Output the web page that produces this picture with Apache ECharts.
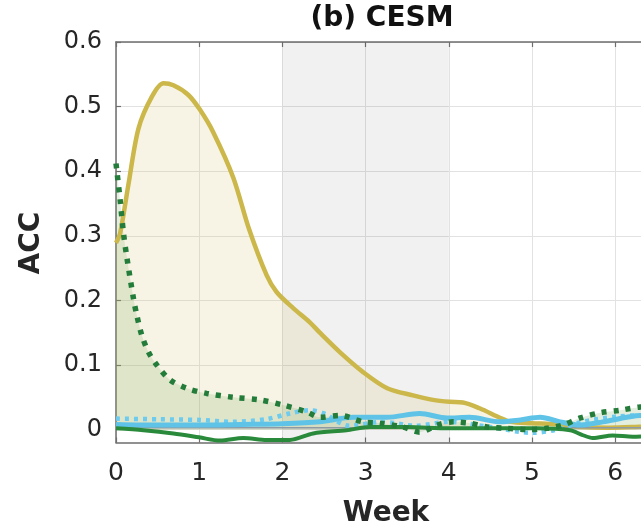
<!DOCTYPE html>
<html><head><meta charset="utf-8">
<script src="https://cdn.jsdelivr.net/npm/echarts@6/dist/echarts.min.js"></script>
<style>html,body{margin:0;padding:0;background:#fff}#c{width:641px;height:530px}</style>
</head><body><div id="c"></div>
<script>
// ---- data ----
const xTicks = [0, 1, 2, 3, 4, 5, 6, 7];
const yTicks = [0, 0.1, 0.2, 0.3, 0.4, 0.5, 0.6];
const shadedWeeks = [2, 4];

const weeksYellow = [0, 0.05, 0.15, 0.27, 0.43, 0.57, 0.69, 0.87, 1.01, 1.17, 1.41, 1.6, 1.81, 1.93, 2.13, 2.33, 2.45, 2.69, 2.97, 3.26, 3.57, 3.81, 4.01, 4.17, 4.37, 4.62, 4.74, 5.0, 5.3, 5.6, 5.9, 6.2, 6.5, 7];
const accYellow   = [0.289, 0.304, 0.38, 0.466, 0.515, 0.536, 0.533, 0.518, 0.495, 0.46, 0.39, 0.31, 0.239, 0.213, 0.188, 0.166, 0.150, 0.12, 0.089, 0.064, 0.053, 0.046, 0.043, 0.042, 0.033, 0.018, 0.012, 0.010, 0.008, 0.004, 0.003, 0.004, 0.005, 0.005];

const weeksGreenDot = [0, 0.05, 0.09, 0.13, 0.21, 0.25, 0.31, 0.39, 0.49, 0.65, 0.85, 1.09, 1.41, 1.73, 2.01, 2.3, 2.45, 2.69, 2.97, 3.17, 3.45, 3.65, 3.86, 4.05, 4.25, 4.46, 4.7, 4.94, 5.18, 5.37, 5.58, 5.82, 6.06, 6.3, 6.6, 7];
const accGreenDot   = [0.412, 0.355, 0.304, 0.267, 0.203, 0.177, 0.146, 0.12, 0.10, 0.077, 0.064, 0.056, 0.05, 0.046, 0.038, 0.027, 0.019, 0.022, 0.012, 0.010, 0.004, -0.004, 0.007, 0.012, 0.010, 0.004, 0.002, 0.0, 0.002, 0.007, 0.018, 0.026, 0.03, 0.035, 0.037, 0.038];

const weeksCyan = [0, 0.5, 1, 1.5, 2, 2.45, 2.85, 3.26, 3.65, 3.98, 4.25, 4.62, 4.86, 5.1, 5.34, 5.58, 5.85, 6.14, 6.3, 6.6, 7];
const accCyan   = [0.008, 0.007, 0.007, 0.008, 0.009, 0.012, 0.019, 0.019, 0.025, 0.018, 0.019, 0.012, 0.015, 0.019, 0.012, 0.007, 0.012, 0.019, 0.022, 0.02, 0.02];

const weeksCyanDot = [0, 0.5, 1, 1.4, 1.8, 2.09, 2.33, 2.5, 2.8, 3.2, 3.6, 4.0, 4.5, 5.0, 5.3, 5.6, 6.0, 6.3, 7];
const accCyanDot   = [0.017, 0.016, 0.015, 0.012, 0.016, 0.025, 0.030, 0.025, 0.006, 0.012, 0.006, 0.012, 0.004, -0.005, 0.0, 0.012, 0.02, 0.022, 0.022];

const weeksDarkGreen = [0, 0.33, 0.69, 1.0, 1.25, 1.53, 1.81, 2.09, 2.37, 2.77, 3.05, 3.5, 4.0, 4.5, 5.06, 5.46, 5.6, 5.73, 5.97, 6.21, 6.5, 7];
const accDarkGreen   = [0.002, -0.001, -0.006, -0.012, -0.017, -0.013, -0.016, -0.016, -0.006, -0.001, 0.004, 0.004, 0.002, 0.002, 0.002, -0.001, -0.008, -0.013, -0.009, -0.011, -0.01, -0.01];

const weeksRef = [0, 7];
const accRef   = [0.003, 0.003];

const pairs = (xs, ys) => xs.map((x, i) => [x, ys[i]]);

const FONT = 'DejaVu Sans';
const AX = '#6e6e6e';
const LBL = '#262626';

const chart = echarts.init(document.getElementById('c'), null, {renderer: 'canvas'});
const K = 646;
chart.setOption({
  animation: false,
  backgroundColor: '#ffffff',
  grid: [
    {left: 116, width: 7 * 83.2, top: 42, height: 0.62 * K, outerBoundsMode: 'none', containLabel: false},
    {left: 116, width: 7 * 83.2, top: 42, height: 0.6 * K, outerBoundsMode: 'none', containLabel: false}
  ],
  xAxis: [
    {gridIndex: 0, type: 'value', min: 0, max: 7, interval: 1, position: 'bottom',
     axisLine: {show: true, onZero: false, lineStyle: {color: AX, width: 1.5}},
     axisTick: {show: true, inside: true, length: 5, lineStyle: {color: AX, width: 1.2}},
     axisLabel: {show: true, margin: 18, fontFamily: FONT, fontSize: 25, color: LBL},
     splitLine: {show: true, lineStyle: {color: '#e2e2e2', width: 1}}},
    {gridIndex: 1, type: 'value', min: 0, max: 7, interval: 1, show: false},
    {gridIndex: 0, type: 'value', min: 0, max: 7, interval: 1, position: 'top',
     axisLine: {show: true, onZero: false, lineStyle: {color: AX, width: 1.5}},
     axisTick: {show: true, inside: true, length: 5, lineStyle: {color: AX, width: 1.2}},
     axisLabel: {show: false}, splitLine: {show: false}}
  ],
  yAxis: [
    {gridIndex: 0, type: 'value', min: -0.02, max: 0.6,
     axisLine: {show: true, onZero: false, lineStyle: {color: AX, width: 1.5}},
     axisTick: {show: false}, axisLabel: {show: false}, splitLine: {show: false}},
    {gridIndex: 1, type: 'value', min: 0, max: 0.6, interval: 0.1,
     axisLine: {show: false},
     axisTick: {show: true, inside: true, length: 5, lineStyle: {color: AX, width: 1.2}},
     axisLabel: {show: true, margin: 14, fontFamily: FONT, fontSize: 24, color: LBL,
                 formatter: v => (Math.abs(v) < 1e-9 ? '0' : v.toFixed(1))},
     splitLine: {show: true, lineStyle: {color: '#e2e2e2', width: 1}}}
  ],
  graphic: [
    {type: 'text', z: 100, x: 382, y: 19, style: {text: '(b) CESM', fontFamily: FONT, fontWeight: 'bold', fontSize: 28, fill: '#111', align: 'center', verticalAlign: 'middle'}},
    {type: 'text', z: 100, x: 386, y: 514, style: {text: 'Week', fontFamily: FONT, fontWeight: 'bold', fontSize: 28, fill: LBL, align: 'center', verticalAlign: 'middle'}},
    {type: 'text', z: 100, x: 32, y: 243, rotation: Math.PI / 2, style: {text: 'ACC', fontFamily: FONT, fontWeight: 'bold', fontSize: 28, fill: LBL, align: 'center', verticalAlign: 'middle'}}
  ],
  series: [
    {name: 'yellowArea', type: 'line', xAxisIndex: 0, yAxisIndex: 0, data: pairs(weeksYellow, accYellow),
     showSymbol: false, smooth: 0.3, lineStyle: {width: 0}, areaStyle: {color: 'rgba(215,195,110,0.25)', origin: 0}, z: 1,
     markArea: {silent: true, itemStyle: {color: 'rgba(0,0,0,0.055)'}, data: [[{xAxis: shadedWeeks[0]}, {xAxis: shadedWeeks[1]}]]}},
    {name: 'greenArea', type: 'line', xAxisIndex: 0, yAxisIndex: 0, data: pairs(weeksGreenDot, accGreenDot),
     showSymbol: false, smooth: 0.3, lineStyle: {width: 0}, areaStyle: {color: 'rgba(110,165,80,0.27)', origin: 0}, z: 1},
    {name: 'yellow', type: 'line', xAxisIndex: 0, yAxisIndex: 0, data: pairs(weeksYellow, accYellow),
     showSymbol: false, smooth: 0.3, lineStyle: {color: '#cbb74a', width: 4.5}, z: 3},
    {name: 'ref', type: 'line', xAxisIndex: 0, yAxisIndex: 0, data: pairs(weeksRef, accRef),
     showSymbol: false, lineStyle: {color: '#8d9aa6', width: 1.5}, z: 3},
    {name: 'cyanDot', type: 'line', xAxisIndex: 0, yAxisIndex: 0, data: pairs(weeksCyanDot, accCyanDot),
     showSymbol: false, smooth: 0.3, lineStyle: {color: '#6ccbee', width: 4.5, type: [4, 5], cap: 'butt'}, z: 4},
    {name: 'cyan', type: 'line', xAxisIndex: 0, yAxisIndex: 0, data: pairs(weeksCyan, accCyan),
     showSymbol: false, smooth: 0.3, lineStyle: {color: '#5ec3e6', width: 5}, z: 4},
    {name: 'darkGreen', type: 'line', xAxisIndex: 0, yAxisIndex: 0, data: pairs(weeksDarkGreen, accDarkGreen),
     showSymbol: false, smooth: 0.3, lineStyle: {color: '#2a8a3c', width: 4}, z: 5},
    {name: 'greenDot', type: 'line', xAxisIndex: 0, yAxisIndex: 0, data: pairs(weeksGreenDot, accGreenDot),
     showSymbol: false, smooth: 0.3, lineStyle: {color: '#237c3a', width: 5.5, type: [5, 7], cap: 'butt'}, z: 6}
  ]
});
</script></body></html>
